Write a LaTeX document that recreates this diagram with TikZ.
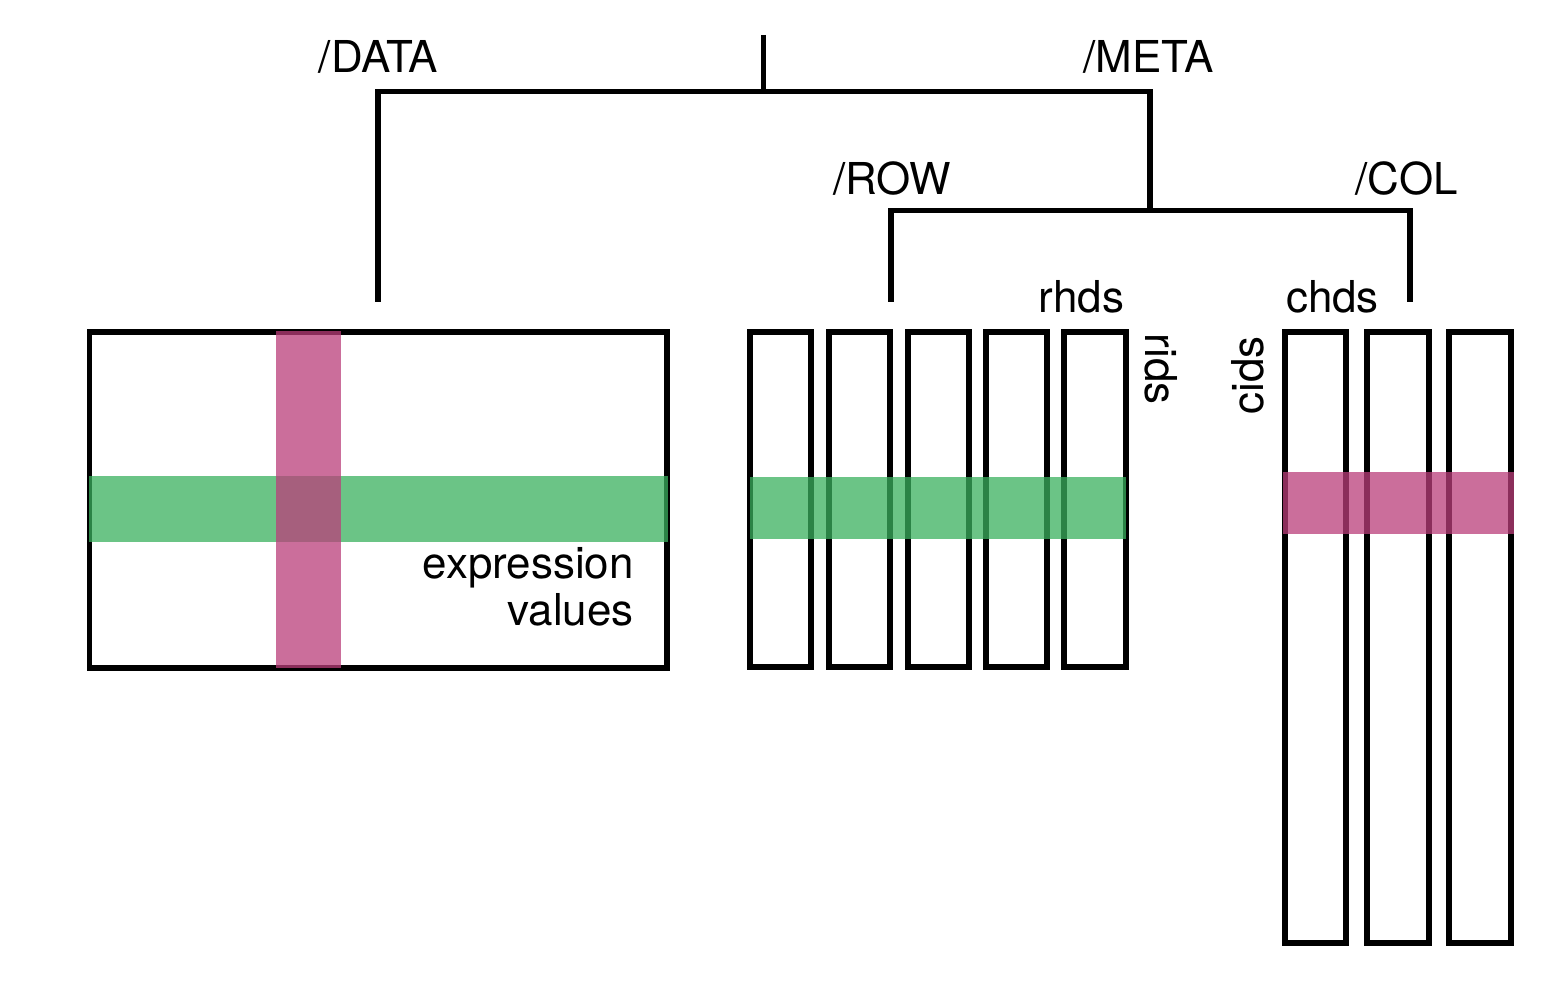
\documentclass[tikz,border=0pt]{standalone}
\usepackage{fontspec}
\setmainfont{TeX Gyre Heros}
\usepackage{tikz}

\definecolor{rowgreen}{RGB}{58,176,94}
\definecolor{colpink}{RGB}{186,62,122}

\begin{document}
\begin{tikzpicture}[
	tree/.style={line width=1.7pt},
	slab/.style={line width=1.7pt},
	gband/.style={fill=rowgreen, fill opacity=0.75},
	pband/.style={fill=colpink, fill opacity=0.75},
	lbl/.style={inner sep=0pt, font=\fontsize{12.5}{13.3}\selectfont}
	]

	\useasboundingbox (0, 0) rectangle (15.62, 9.84);

	% tree of the file
	\coordinate (root) at (7.635, 9.49);
	\coordinate (top) at (7.635, 8.925);
	\coordinate (dataend) at (3.78, 6.82);
	\coordinate (metajoint) at (11.50, 7.735);
	\coordinate (rowend) at (8.905, 6.82);
	\coordinate (colend) at (14.10, 6.82);

	\draw [tree] (root) -- (top);
	\draw [tree] (dataend) |- (top) -| (metajoint);
	\draw [tree] (rowend) |- (metajoint) -| (colend);

	\node [lbl, anchor=base] (data) at (3.785, 9.11) {/DATA};
	\node [lbl, anchor=base] (meta) at (11.485, 9.11) {/META};
	\node [lbl, anchor=base] (row) at (8.92, 7.89) {/ROW};
	\node [lbl, anchor=base] (col) at (14.065, 7.89) {/COL};

	%%%%%%%%%%%%%%%%%%%%%%%%%%%%%%%%%%%%%%%%%%%%%%%%%%%%%%%%%%%%%%%%

	% expression matrix
	\draw [slab] (0.895, 3.16) rectangle (6.67, 6.52);
	\fill [gband] (0.89, 4.42) rectangle (6.68, 5.08);
	\fill [pband] (2.76, 3.16) rectangle (3.41, 6.525);
	\node [lbl, anchor=base east, align=right] (expr) at (6.345, 3.585) {expression\\values};

	%%%%%%%%%%%%%%%%%%%%%%%%%%%%%%%%%%%%%%%%%%%%%%%%%%%%%%%%%%%%%%%%

	% row metadata
	\draw [slab] (7.50, 3.17) rectangle (8.11, 6.52);
	\draw [slab] (8.29, 3.17) rectangle (8.90, 6.52);
	\draw [slab] (9.075, 3.17) rectangle (9.69, 6.52);
	\draw [slab] (9.86, 3.17) rectangle (10.47, 6.52);
	\draw [slab] (10.64, 3.17) rectangle (11.26, 6.52);
	\fill [gband] (7.50, 4.45) rectangle (11.26, 5.07);

	\node [lbl, anchor=base] (rhds) at (10.815, 6.71) {rhds};
	\node [lbl, anchor=base west, rotate=-90] (rids) at (11.45, 6.51) {rids};

	%%%%%%%%%%%%%%%%%%%%%%%%%%%%%%%%%%%%%%%%%%%%%%%%%%%%%%%%%%%%%%%%

	% column metadata
	\draw [slab] (12.85, 0.41) rectangle (13.46, 6.52);
	\draw [slab] (13.67, 0.41) rectangle (14.29, 6.52);
	\draw [slab] (14.49, 0.41) rectangle (15.11, 6.52);
	\fill [pband] (12.83, 4.50) rectangle (15.14, 5.12);

	\node [lbl, anchor=base] (chds) at (13.325, 6.71) {chds};
	\node [lbl, anchor=base west, rotate=90] (cids) at (12.63, 5.69) {cids};

\end{tikzpicture}
\end{document}
